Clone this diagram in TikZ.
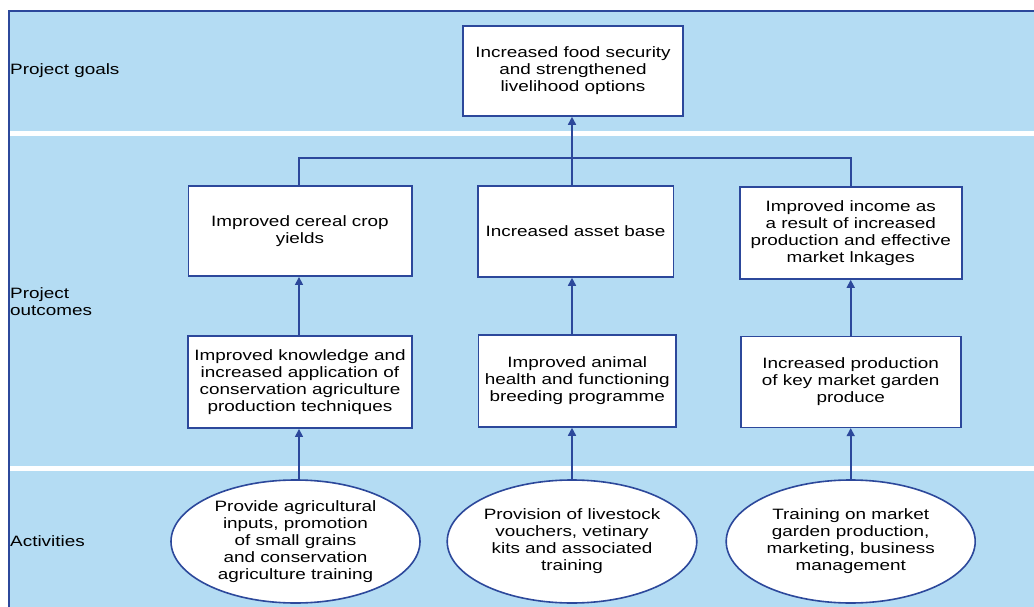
\documentclass[tikz,border=0pt]{standalone}
\usepackage{fontspec}
\setmainfont{Liberation Sans}[FakeStretch=1.26]
\usetikzlibrary{arrows.meta,shapes.geometric}
\definecolor{bandblue}{RGB}{180,220,243}
\definecolor{lineblue}{RGB}{44,72,155}
\begin{document}
\begin{tikzpicture}[x=1pt,y=-1pt,
  every node/.style={font=\fontsize{15}{17}\selectfont, text=black},
  box/.style={draw=lineblue, line width=1.6pt, fill=white, rectangle, inner sep=0pt, align=center},
  oval/.style={draw=lineblue, line width=1.6pt, fill=white, ellipse, inner sep=0pt, align=center, minimum width=249pt, minimum height=123pt},
  link/.style={draw=lineblue, line width=1.6pt},
  uparrow/.style={link, -{Triangle[width=8pt,length=8pt]}},
  lbl/.style={anchor=west, align=left, inner sep=0pt}]
\useasboundingbox (0,0) rectangle (1034,607);
% background bands
\fill[bandblue] (9,11) rectangle (1034,607);
\fill[white] (10,131) rectangle (1034,136.5);
\fill[white] (10,466) rectangle (1034,470.5);
\draw[lineblue, line width=2.2pt] (1034,11) -- (9,11) -- (9,607);
% labels
\node[lbl] (lg) at (10,71) {Project goals};
\node[lbl] (lo) at (10,301.5) {Project\\outcomes};
\node[lbl] (la) at (10,541) {Activities};
% goal
\node[box, minimum width=220pt, minimum height=90pt] (goal) at (573,71) {Increased food security\\and strengthened\\livelihood options};
% outcomes row 1
\node[box, minimum width=223.4pt, minimum height=90.3pt] (o1a) at (300,231) {Improved cereal crop\\yields};
\node[box, minimum width=195.6pt, minimum height=91pt] (o2a) at (575.5,231.5) {Increased asset base};
\node[box, minimum width=222pt, minimum height=92pt] (o3a) at (850.7,233) {Improved income as\\a result of increased\\production and effective\\market lnkages};
% outcomes row 2
\node[box, minimum width=224pt, minimum height=92.3pt] (o1b) at (300,382) {Improved knowledge and\\increased application of\\conservation agriculture\\production techniques};
\node[box, minimum width=197.3pt, minimum height=92pt] (o2b) at (577.3,381) {Improved animal\\health and functioning\\breeding programme};
\node[box, minimum width=220pt, minimum height=91pt] (o3b) at (850.7,381.8) {Increased production\\of key market garden\\produce};
% activities
\node[oval] (e1) at (295.5,541.5) {Provide agricultural\\inputs, promotion\\of small grains\\and conservation\\agriculture training};
\node[oval] (e2) at (572,541.5) {Provision of livestock\\vouchers, vetinary\\kits and associated\\training};
\node[oval] (e3) at (850.7,541.5) {Training on market\\garden production,\\marketing, business\\management};
% connectors
\coordinate (bar) at (573,158);
\draw[link] (o1a.north -| 299,0) -- (bar -| 299,0) -- (bar -| o3a.north) -- (o3a.north);
\draw[uparrow] (572,186) coordinate (m) -- (m |- goal.south);
\draw[uparrow] (o1b.north -| 299,0) -- (o1a.south -| 299,0);
\draw[uparrow] (o2b.north -| 572,0) -- (o2a.south -| 572,0);
\draw[uparrow] (o3b.north) -- (o3a.south);
\draw[uparrow] (e1.north -| 299,0) -- (o1b.south -| 299,0);
\draw[uparrow] (e2.north) -- (e2.north |- o2b.south);
\draw[uparrow] (e3.north) -- (e3.north |- o3b.south);
\end{tikzpicture}
\end{document}
